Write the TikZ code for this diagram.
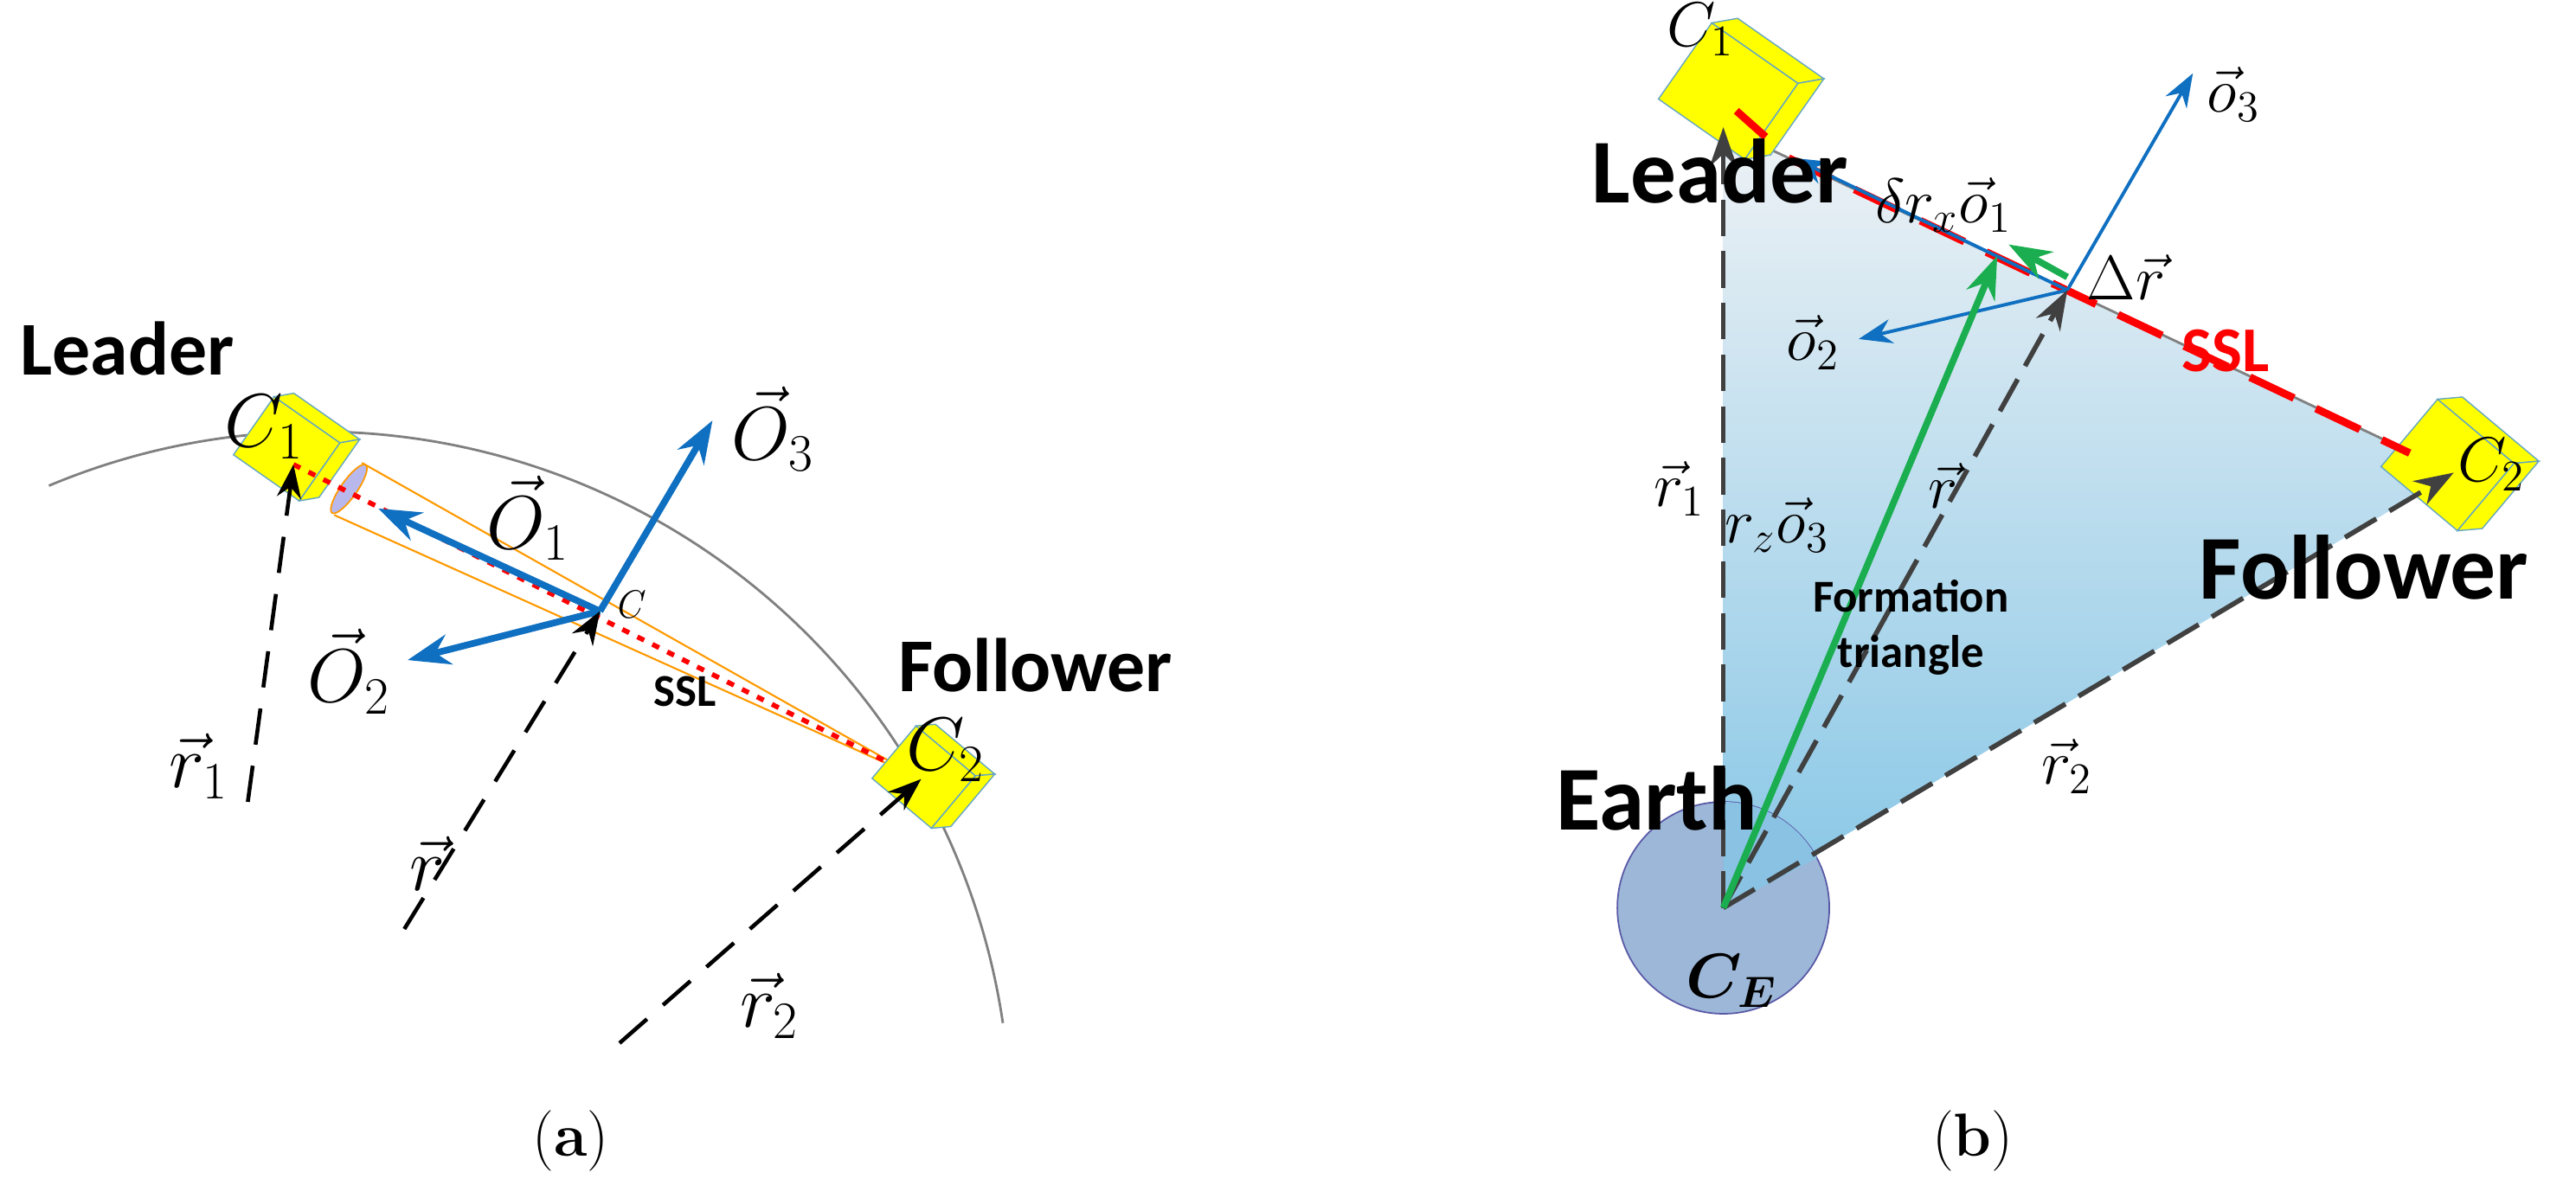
\documentclass[tikz,border=0pt]{standalone}
\usepackage{amsmath}
\usepackage{fontspec}
\newfontfamily\carl{Carlito}
\usetikzlibrary{arrows.meta,calc}
\definecolor{ablue}{HTML}{0F6FC0}
\definecolor{sgreen}{HTML}{1AAE50}
\definecolor{sat}{HTML}{FFFF00}
\definecolor{dgray}{HTML}{404040}
\definecolor{tritop}{HTML}{EEF2F5}
\definecolor{tribot}{HTML}{86C6E6}
\definecolor{earthc}{HTML}{98B3D6}
\tikzset{
 lbl/.style={font=\carl\bfseries\fontsize{25}{28}\selectfont, inner sep=0pt},
 lblb/.style={font=\carl\bfseries\fontsize{30}{32}\selectfont, inner sep=0pt},
 mth/.style={font=\fontsize{24}{26}\selectfont, inner sep=0pt},
 mths/.style={font=\fontsize{21}{23}\selectfont, inner sep=0pt},
 vecA/.style={ablue, line width=2.2pt, -{Stealth[length=14pt,width=10pt]}},
 vecB/.style={ablue, line width=1.1pt, -{Stealth[length=11pt,width=8pt]}},
 dashA/.style={black, line width=1.3pt, dash pattern=on 12pt off 7pt, -{Stealth[length=11pt,width=8pt]}},
 dashB/.style={dgray, line width=1.6pt, dash pattern=on 12pt off 5pt, -{Stealth[length=13pt,width=9pt]}},
 grn/.style={sgreen, line width=2.2pt, -{Stealth[length=14pt,width=10pt]}},
 satf/.style={fill=sat, draw=cyan!50!gray, line width=0.4pt},
}
\newcommand{\satbox}[4]{%
 \begin{scope}[shift={(#1,#2)}, rotate=#3, scale=#4]
  \path[satf] (-24,-14) -- (10,-14) -- (10,16) -- (-24,16) -- cycle;
  \path[satf] (-24,-14) -- (-18,-20) -- (16,-20) -- (10,-14) -- cycle;
  \path[satf] (10,-14) -- (16,-20) -- (16,10) -- (10,16) -- cycle;
 \end{scope}}
\begin{document}
\begin{tikzpicture}[x=0.01884cm, y=-0.01884cm]
\useasboundingbox (0,0) rectangle (1580,723);
% ---------------- (a) ----------------
\draw[gray, line width=0.8pt] (30,298) arc[start angle=-112.8, end angle=-8.4, radius=425];
\coordinate (C1) at (180,285);
\coordinate (C2) at (565,478);
\coordinate (C) at (368,375);
\satbox{185}{280}{-35}{1.45}
\begin{scope}[shift={(214,300)}, rotate=-35]
 \fill[gray!40!blue!35] (0,0) ellipse (5 and 18);
 \draw[orange!80!yellow, line width=0.5pt] (0,0) ellipse (5 and 18);
\end{scope}
\coordinate (bt) at (222,284);
\coordinate (bb) at (205,316);
\draw[orange!80!yellow, line width=0.6pt] (bt) -- (C2) (bb) -- (C2);
\draw[red, line width=1.6pt, dash pattern=on 2.5pt off 3pt] (C1) -- (C2);
\satbox{575}{482}{-40}{1.4}
\node[lbl] (lead) at (78,214) {Leader};
\node[lbl] (foll) at (635,408) {Follower};
\node[mth] (c1l) at (162,262) {$C_1$};
\node[mth] (c2l) at (580,460) {$C_2$};
\node[font=\fontsize{13}{14}\selectfont\itshape] (cl) at (385,371) {C};
\node[font=\carl\bfseries\fontsize{15}{16}\selectfont] (ssl) at (420,424) {SSL};
\coordinate (o1e) at (232,312);
\coordinate (o2e) at (250,405);
\coordinate (o3e) at (437,258);
\draw[vecA] (C) -- (o1e);
\draw[vecA] (C) -- (o2e);
\draw[vecA] (C) -- (o3e);
\node[mth] (o1l) at (324,318) {$\vec{O}_1$};
\node[mth] (o2l) at (214,412) {$\vec{O}_2$};
\node[mth] (o3l) at (474,263) {$\vec{O}_3$};
\coordinate (r1s) at (152,492);
\coordinate (rs) at (248,570);
\coordinate (r2s) at (380,640);
\draw[dashA] (r1s) -- (C1);
\draw[dashA] (rs) -- (C);
\draw[dashA] (r2s) -- (C2);
\node[mth] (r1l) at (122,470) {$\vec{r}_1$};
\node[mth] (rl) at (262,530) {$\vec{r}$};
\node[mth] (r2l) at (472,617) {$\vec{r}_2$};
\node[font=\fontsize{20}{22}\selectfont] (ca) at (350,700) {(\textbf{a})};
% ---------------- (b) ----------------
\coordinate (B1) at (1057,78);
\coordinate (B2) at (1505,290);
\coordinate (CE) at (1057,557);
\shade[top color=tritop, bottom color=tribot] (B1) -- (B2) -- (CE) -- cycle;
\fill[earthc, opacity=0.95] (CE) circle (65);
\draw[gray!70!blue, line width=0.5pt] (CE) circle (65);
\fill[tribot!80!earthc] (CE) -- (1057,492) arc[start angle=-90, end angle=-28, radius=65] -- cycle;
\draw[gray, line width=0.8pt] (B1) -- (B2);
\satbox{1072}{62}{-35}{1.9}
\satbox{1512}{292}{-40}{1.8}
\draw[red, line width=2.5pt] (1065,68) -- (1083,84);
\draw[red, line width=2.5pt, dash pattern=on 16pt off 8pt] (1097,97) -- (1478,278);
\coordinate (DR) at (1268,178);
\coordinate (G1) at (1225,157);
\coordinate (G2) at (1232,150);
\coordinate (bo1) at (1100,97);
\coordinate (bo2) at (1140,208);
\coordinate (bo3) at (1345,45);
\draw[vecB] (DR) -- (bo1);
\draw[vecB] (DR) -- (bo2);
\draw[vecB] (DR) -- (bo3);
\draw[dashB] (CE) -- (B1);
\draw[dashB] (CE) -- (DR);
\draw[dashB] (CE) -- (B2);
\draw[grn] (CE) -- (G1);
\coordinate (g0) at (1268,170);
\draw[grn] (g0) -- (G2);
\node[lblb] (lead2) at (1055,105) {Leader};
\node[lblb] (foll2) at (1450,348) {Follower};
\node[lblb] (earth) at (1016,490) {Earth};
\node[font=\carl\bfseries\fontsize{15}{18}\selectfont, align=center] (ft) at (1172,385) {Formation\\triangle};
\node[font=\carl\bfseries\fontsize{21}{22}\selectfont, text=red] (ssl2) at (1365,215) {SSL};
\node[mths] (bc1) at (1043,18) {$C_1$};
\node[mths] (bc2) at (1528,285) {$C_2$};
\node[mths] (bce) at (1062,602) {$\boldsymbol{C_E}$};
\node[mths] (bo1l) at (1192,126) {$\delta r_x\vec{o}_1$};
\node[mths] (bo2l) at (1112,210) {$\vec{o}_2$};
\node[mths] (bo3l) at (1370,58) {$\vec{o}_3$};
\node[mths] (drl) at (1304,170) {$\Delta\vec{r}$};
\node[mths] (br1) at (1030,300) {$\vec{r}_1$};
\node[mths] (brl) at (1192,298) {$\vec{r}$};
\node[mths] (brz) at (1090,322) {$r_z\vec{o}_3$};
\node[mths] (br2) at (1268,470) {$\vec{r}_2$};
\node[font=\fontsize{20}{22}\selectfont] (cb) at (1210,700) {(\textbf{b})};
\end{tikzpicture}
\end{document}
